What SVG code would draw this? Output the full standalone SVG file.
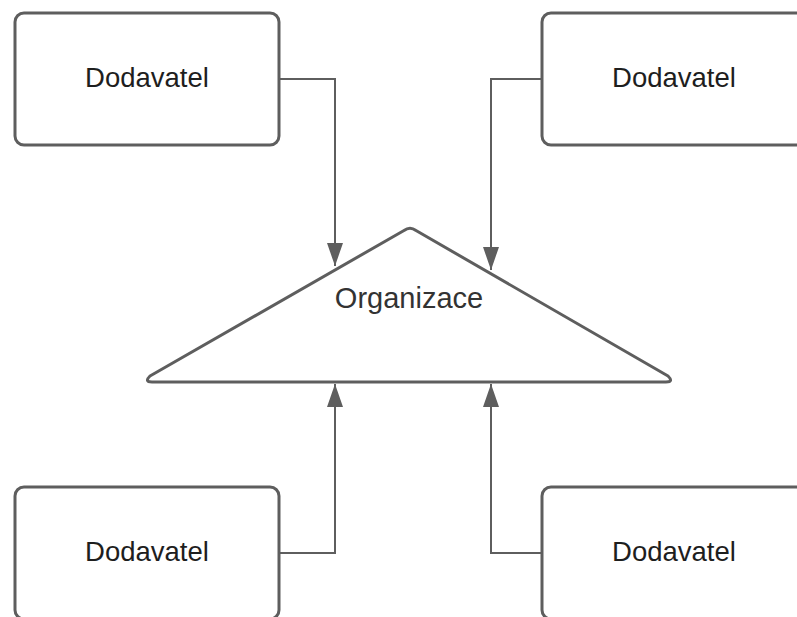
<svg xmlns="http://www.w3.org/2000/svg" width="797" height="617" viewBox="0 0 797 617">
  <style>
    .box { fill: #ffffff; stroke: #5e5e5e; stroke-width: 3; }
    .tri { fill: #ffffff; stroke: #5e5e5e; stroke-width: 3; stroke-linejoin: round; }
    .label { font-family: "Liberation Sans", Arial, sans-serif; font-size: 27.5px; fill: #1e1e1e; text-anchor: middle; }
    .org { font-family: "Liberation Sans", Arial, sans-serif; font-size: 29px; fill: #333333; text-anchor: middle; }
    .conn { fill: none; stroke: #5e5e5e; stroke-width: 2; }
  </style>
  <defs>
    <marker id="arrow" viewBox="0 0 23 16" refX="23" refY="8" markerWidth="23" markerHeight="16" markerUnits="userSpaceOnUse" orient="auto">
      <path d="M0,0 L23,8 L0,16 Z" fill="#5e5e5e"/>
    </marker>
  </defs>
  <rect width="797" height="617" fill="#ffffff"/>

  <g id="connectors">
    <path class="conn" d="M279,79 H335 V266" marker-end="url(#arrow)"/>
    <path class="conn" d="M542,79 H491 V270" marker-end="url(#arrow)"/>
    <path class="conn" d="M279,553 H335 V384" marker-end="url(#arrow)"/>
    <path class="conn" d="M542,553 H491 V384" marker-end="url(#arrow)"/>
  </g>

  <g id="organizace">
    <path class="tri" d="M404,230.5 Q410,226 416,230.5 L668,376 Q674,382 666,382 L152,382 Q144,382 150,376 Z"/>
    <text class="org" x="409" y="308">Organizace</text>
  </g>

  <g id="dodavatel-1">
    <rect class="box" x="15" y="13" width="264" height="132" rx="9"/>
    <text class="label" x="147" y="87">Dodavatel</text>
  </g>
  <g id="dodavatel-2">
    <rect class="box" x="542" y="13" width="264" height="132" rx="9"/>
    <text class="label" x="674" y="87">Dodavatel</text>
  </g>
  <g id="dodavatel-3">
    <rect class="box" x="15" y="487" width="264" height="132" rx="9"/>
    <text class="label" x="147" y="561">Dodavatel</text>
  </g>
  <g id="dodavatel-4">
    <rect class="box" x="542" y="487" width="264" height="132" rx="9"/>
    <text class="label" x="674" y="561">Dodavatel</text>
  </g>
</svg>
